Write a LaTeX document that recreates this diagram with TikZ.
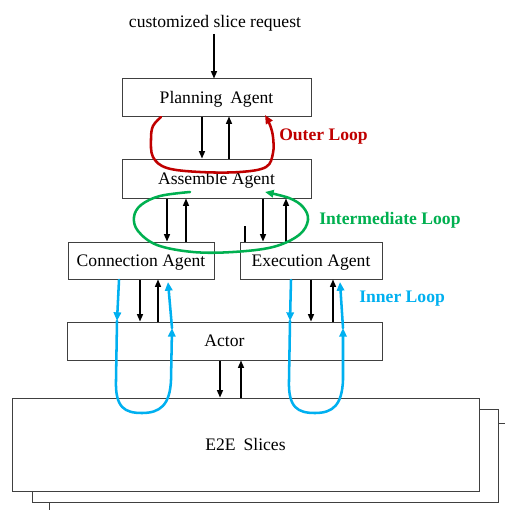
\documentclass[tikz,border=0pt]{standalone}
\usepackage{fontspec}
\setmainfont{Liberation Serif}
\usetikzlibrary{arrows.meta}
\definecolor{outerred}{HTML}{C00000}
\definecolor{midgreen}{HTML}{00B050}
\definecolor{innerblue}{HTML}{00B0F0}
\begin{document}
\begin{tikzpicture}[x=0.75pt,y=-0.75pt,
  box/.style={draw=black!75,line width=0.75pt,fill=white,inner sep=0pt,
    text depth=0pt,font=\fontsize{13.2}{15}\selectfont},
  link/.style={-{Triangle[length=5.5pt,width=4.5pt]},line width=0.9pt},
  tick/.style={line width=0.9pt},
  loopline/.style={line width=1.9pt,line cap=round,-{Triangle[length=6.5pt,width=5.5pt]}},
  looplabel/.style={font=\bfseries\fontsize{13.2}{15}\selectfont,anchor=west,inner sep=0pt}]

\useasboundingbox (0,0) rectangle (505,510);
\fill[white] (0,0) rectangle (505,510);

\begin{scope}
\clip (0,0) rectangle (505,510);
% stacked slice sheets behind the front one
\draw[draw=black!75,line width=0.75pt,fill=white] (49,423) rectangle (540,540);
\draw[draw=black!75,line width=0.75pt,fill=white] (32,409) rectangle (498,502);
\end{scope}

% request text
\node[font=\fontsize{13.2}{15}\selectfont,inner sep=2pt] (req) at (215,23) {customized slice request};

% agents and actor
\node[box,minimum width=141.75pt,minimum height=27.75pt] (plan) at (216.5,97.5) {Planning\hspace{0.45em}Agent};
\node[box,minimum width=141.75pt,minimum height=29.25pt] (asm) at (216.5,178.5) {Assemble Agent};
\node[box,minimum width=109.5pt,minimum height=27.75pt] (conn) at (141,260.5) {Connection Agent};
\node[box,minimum width=106.5pt,minimum height=27.75pt] (exec) at (311,260.5) {Execution Agent};
\node[box,minimum width=236.25pt,minimum height=28.5pt] (actor) at (224.5,341) {Actor};
\node[box,minimum width=350.25pt,minimum height=69.75pt] (e2e) at (245.5,444.5) {E2E\hspace{0.45em}Slices};

% request and feedback arrows between the layers
\draw[link] (214,0 |- req.south) -- (214,0 |- plan.north);
\draw[link] (202,0 |- plan.south) -- (202,0 |- asm.north);
\draw[link] (229,0 |- asm.north) -- (229,0 |- plan.south);
\draw[link] (167,0 |- asm.south) -- (167,0 |- conn.north);
\draw[link] (186,0 |- conn.north) -- (186,0 |- asm.south);
\draw[link] (263,0 |- asm.south) -- (263,0 |- exec.north);
\draw[link] (286,0 |- exec.north) -- (286,0 |- asm.south);
\coordinate (mark) at (245,226);
\draw[tick] (mark) -- (mark |- exec.north);
\draw[link] (140,0 |- conn.south) -- (140,0 |- actor.north);
\draw[link] (158,0 |- actor.north) -- (158,0 |- conn.south);
\draw[link] (311,0 |- exec.south) -- (311,0 |- actor.north);
\draw[link] (333,0 |- actor.north) -- (333,0 |- exec.south);
\draw[link] (220,0 |- actor.south) -- (220,0 |- e2e.north);
\draw[link] (241,0 |- e2e.north) -- (241,0 |- actor.south);

% outer loop
\draw[outerred,loopline] plot[smooth,tension=0.6] coordinates {
  (161,117) (153,126) (151,139) (153,157) (167,168) (200,172) (240,172)
  (266,167) (273,153) (273,137) (270,125) (265,115)};
\node[looplabel,text=outerred] (outer) at (279,137) {Outer Loop};

% intermediate loop
\draw[midgreen,loopline] plot[smooth,tension=0.6] coordinates {
  (190,192) (160,196) (141,205) (134,217) (138,231) (157,245) (193,252)
  (233,252) (273,247) (299,235) (308,220) (303,207) (289,198) (265,192)};
\node[looplabel,text=midgreen] (middle) at (319,220) {Intermediate Loop};

% inner loops
\draw[innerblue,loopline] (119,280) -- (117,321);
\draw[innerblue,loopline] (117,321) -- (116,380)
  .. controls (115,408) and (125,413) .. (142,413)
  .. controls (160,413) and (170,405) .. (171,380) -- (172,328);
\draw[innerblue,loopline] (172,328) -- (168,282);

\draw[innerblue,loopline] (291,280) -- (290,321);
\draw[innerblue,loopline] (290,321) -- (289,380)
  .. controls (288,408) and (298,413) .. (315,413)
  .. controls (333,413) and (342,405) .. (343,380) -- (343,328);
\draw[innerblue,loopline] (343,328) -- (340,282);
\node[looplabel,text=innerblue] (inner) at (359,299) {Inner Loop};
\end{tikzpicture}
\end{document}
